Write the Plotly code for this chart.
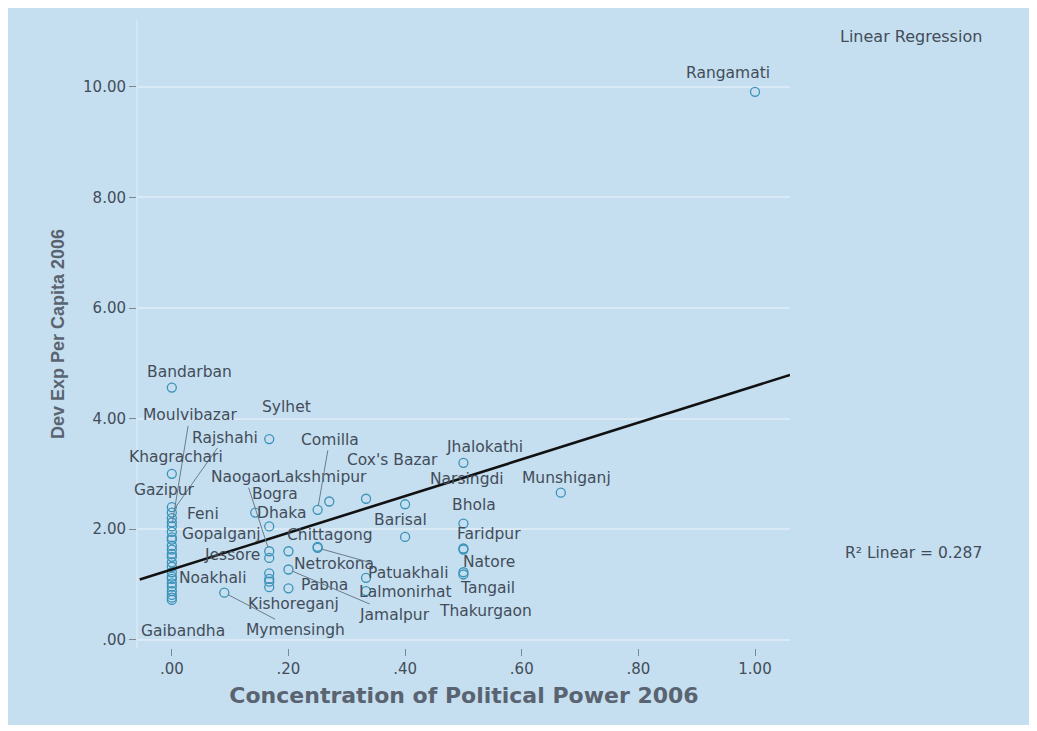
import plotly.graph_objects as go

# ---------------- data ----------------
labeled_names = ["Rangamati", "Bandarban", "Sylhet", "Moulvibazar", "Rajshahi", "Khagrachari",
                 "Gazipur", "Feni", "Gopalganj", "Jessore", "Noakhali", "Gaibandha",
                 "Naogaon", "Lakshmipur", "Bogra", "Dhaka", "Comilla", "Cox's Bazar",
                 "Narsingdi", "Jhalokathi", "Munshiganj", "Barisal", "Bhola", "Faridpur",
                 "Natore", "Tangail", "Thakurgaon", "Chittagong", "Netrokona", "Pabna",
                 "Kishoreganj", "Mymensingh", "Patuakhali", "Lalmonirhat", "Jamalpur"]
labeled_x = [1.00, 0.00, 0.167, 0.00, 0.00, 0.00,
             0.00, 0.00, 0.00, 0.00, 0.00, 0.00,
             0.167, 0.27, 0.167, 0.143, 0.25, 0.333,
             0.40, 0.50, 0.667, 0.40, 0.50, 0.50,
             0.50, 0.50, 0.50, 0.25, 0.20, 0.20,
             0.167, 0.09, 0.25, 0.333, 0.20]
labeled_y = [9.91, 4.56, 3.63, 2.05, 2.30, 3.00,
             2.40, 2.20, 1.85, 1.50, 1.10, 0.72,
             1.60, 2.50, 2.05, 2.30, 2.35, 2.55,
             2.45, 3.20, 2.66, 1.86, 2.10, 1.65,
             1.22, 1.63, 1.18, 1.68, 1.60, 0.93,
             0.95, 0.85, 1.66, 1.12, 1.27]

other_x = [0.00] * 15 + [0.167] * 4 + [0.333]
other_y = [2.12, 1.95, 1.81, 1.70, 1.63, 1.55, 1.40, 1.32, 1.22, 1.14, 1.02, 0.96, 0.88, 0.81, 0.76,
           1.48, 1.20, 1.10, 1.05,
           0.88]

x_ticks = [0.0, 0.2, 0.4, 0.6, 0.8, 1.0]
x_ticktext = [".00", ".20", ".40", ".60", ".80", "1.00"]
y_ticks = [0, 2, 4, 6, 8, 10]
y_ticktext = [".00", "2.00", "4.00", "6.00", "8.00", "10.00"]

fit_intercept = 1.27
fit_slope = 3.32
r2_value = 0.287

# ---------------- label placement (pixel offsets, leader flag) ----------------
label_offsets = {
    "Rangamati": (-27, -19, False), "Bandarban": (18, -16, False), "Sylhet": (17, -32, False),
    "Moulvibazar": (18, -111, True), "Rajshahi": (53, -75, True), "Khagrachari": (4, -17, False),
    "Gazipur": (-7, -17, False), "Feni": (31, -4, False), "Gopalganj": (50, -3, False),
    "Jessore": (60, -2, False), "Noakhali": (41, -1, False), "Gaibandha": (11, 31, False),
    "Naogaon": (-24, -74, True), "Lakshmipur": (-8, -25, False), "Bogra": (6, -32, False),
    "Dhaka": (26, 0, False), "Comilla": (12, -70, True), "Cox's Bazar": (26, -39, False),
    "Narsingdi": (62, -25, False), "Jhalokathi": (21, -16, False), "Munshiganj": (6, -15, False),
    "Barisal": (-5, -17, False), "Bhola": (11, -19, False), "Faridpur": (26, -14, False),
    "Natore": (26, -10, False), "Tangail": (24, 38, False), "Thakurgaon": (22, 37, False),
    "Chittagong": (12, -12, False), "Netrokona": (46, 13, False), "Pabna": (36, -3, False),
    "Kishoreganj": (24, 17, False), "Mymensingh": (71, 37, True), "Patuakhali": (90, 25, True),
    "Lalmonirhat": (39, 14, False), "Jamalpur": (106, 45, True),
}

BG = "#c5dff0"
TXT = "#434d5a"
MARK = "#3b92b8"
FONT = "DejaVu Sans"

fig = go.Figure()

fig.add_trace(go.Scatter(
    x=other_x + labeled_x, y=other_y + labeled_y, mode="markers",
    marker=dict(symbol="circle-open", size=9, color=MARK, line=dict(width=1.3)),
    showlegend=False, hoverinfo="skip"))

x_lo, x_hi = -0.055, 1.06
fig.add_trace(go.Scatter(
    x=[x_lo, x_hi], y=[fit_intercept + fit_slope * x_lo, fit_intercept + fit_slope * x_hi],
    mode="lines", line=dict(color="#111111", width=2.6), showlegend=False, hoverinfo="skip"))

annotations = []
for name, xv, yv in zip(labeled_names, labeled_x, labeled_y):
    ax, ay, leader = label_offsets[name]
    annotations.append(dict(
        x=xv, y=yv, xref="x", yref="y", text=name, showarrow=True, arrowhead=0,
        arrowwidth=1, arrowcolor="#6b7b8a" if leader else "rgba(0,0,0,0)",
        ax=ax, ay=ay, standoff=4, font=dict(family=FONT, size=15.5, color=TXT)))

annotations.append(dict(x=1.186, y=0.973, xref="paper", yref="paper", text="Linear Regression",
                        xanchor="center", yanchor="middle",
                        showarrow=False, font=dict(family=FONT, size=16, color=TXT)))
annotations.append(dict(x=1.19, y=0.151, xref="paper", yref="paper",
                        text="R² Linear = %.3f" % r2_value, xanchor="center", yanchor="middle",
                        showarrow=False, font=dict(family=FONT, size=15.5, color=TXT)))

fig.update_layout(
    width=1037, height=731,
    margin=dict(l=130, r=255, t=12, b=91),
    paper_bgcolor="white", plot_bgcolor=BG,
    annotations=annotations,
    shapes=[dict(type="rect", xref="paper", yref="paper", x0=-0.2, x1=1.368, y0=-0.1226, y1=1.019,
                 fillcolor=BG, line=dict(width=0), layer="below")],
    font=dict(family=FONT, color=TXT),
)
fig.update_xaxes(range=[-0.058, 1.06], tickvals=x_ticks, ticktext=x_ticktext, showgrid=False,
                 zeroline=False, ticks="outside", ticklen=7, tickcolor="#7a8794",
                 tickfont=dict(size=15, color=TXT), showline=False,
                 title=dict(text="<b>Concentration of Political Power 2006</b>",
                            font=dict(family=FONT, size=22, color="#5a6470"), standoff=10))
fig.update_yaxes(range=[-0.15, 11.21], tickvals=y_ticks, ticktext=y_ticktext, showgrid=True,
                 gridcolor="#d9eaf6", gridwidth=2, zeroline=False, ticks="outside", ticklen=7,
                 tickcolor="#7a8794", tickfont=dict(size=15, color=TXT),
                 showline=True, linecolor="#d3e6f3", linewidth=2,
                 title=dict(text="<b>Dev Exp Per Capita 2006</b>",
                            font=dict(family="Arial", size=18, color="#5a6470"), standoff=14))

fig.write_html("out.html")
